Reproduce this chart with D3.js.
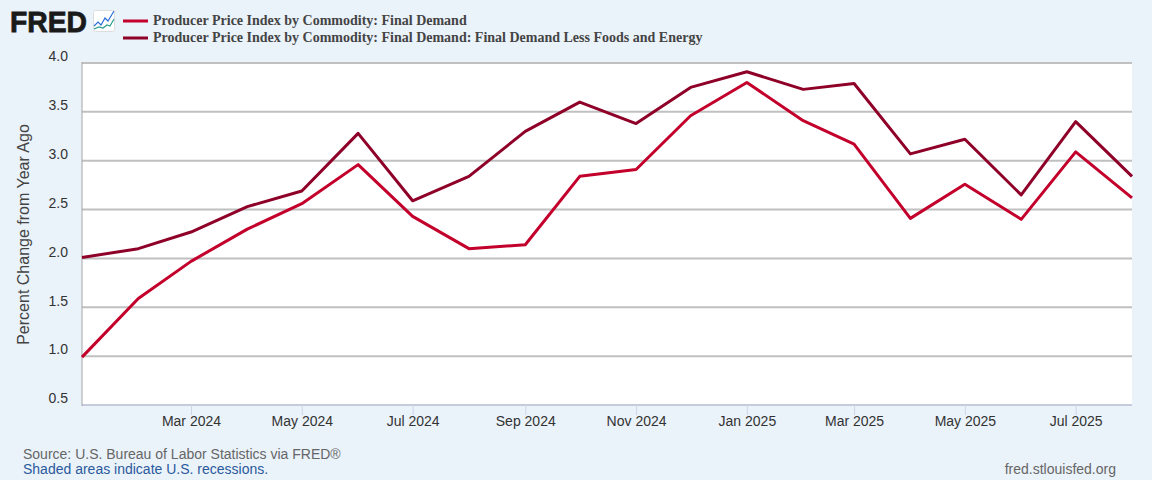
<!DOCTYPE html>
<html>
<head>
<meta charset="utf-8">
<script src="https://cdn.jsdelivr.net/npm/d3@7"></script>
<style>
  html, body { margin: 0; padding: 0; background: #eaf2fa; }
  text { font-family: "Liberation Sans", Arial, sans-serif; }
</style>
</head>
<body>
<div id="visual"></div>
<script>
const months = ["2024-01","2024-02","2024-03","2024-04","2024-05","2024-06","2024-07","2024-08","2024-09","2024-10",
  "2024-11","2024-12","2025-01","2025-02","2025-03","2025-04","2025-05","2025-06","2025-07","2025-08"];
const finalDemand = [0.99,1.59,1.97,2.30,2.56,2.96,2.43,2.10,2.14,2.84,2.91,3.46,3.80,3.41,3.17,2.41,2.76,2.40,3.09,2.62];
const lessFoodsEnergy = [2.01,2.10,2.27,2.53,2.69,3.28,2.59,2.84,3.30,3.60,3.38,3.75,3.91,3.73,3.79,3.07,3.22,2.65,3.40,2.84];
const yTicks = [0.5,1.0,1.5,2.0,2.5,3.0,3.5,4.0];
const xTicks = ["2024-03","2024-05","2024-07","2024-09","2024-11","2025-01","2025-03","2025-05","2025-07"];
const legendLabels = ["Producer Price Index by Commodity: Final Demand",
  "Producer Price Index by Commodity: Final Demand: Final Demand Less Foods and Energy"];
const colors = ["#c3002b", "#8f0029"];

const margin = { top: 63, right: 20, bottom: 75, left: 82 };
const width = 1152 - margin.left - margin.right;
const height = 480 - margin.top - margin.bottom;
const parseMonth = d3.timeParse("%Y-%m");
const fmtMonth = d3.timeFormat("%b %Y");

const root = d3.select("#visual").append("svg")
  .attr("width", 1152).attr("height", 480)
  .style("display", "block");

const svg = root.append("g")
  .attr("transform", `translate(${margin.left},${margin.top})`);

const x = d3.scaleTime()
  .domain([parseMonth(months[0]), parseMonth(months[months.length - 1])])
  .range([0, width]);
const y = d3.scaleLinear().domain([0.5, 4]).range([height, 0]);

svg.append("rect").attr("width", width).attr("height", height).attr("fill", "#fff");

// gridlines
svg.selectAll(".grid").data(yTicks).enter().append("line")
  .attr("x1", 0).attr("x2", width)
  .attr("y1", d => y(d)).attr("y2", d => y(d))
  .attr("stroke", d => d === 0.5 ? "#c5cbdc" : "#c0c0c0")
  .attr("stroke-width", 2);

svg.append("line").attr("x1", 0).attr("x2", 0).attr("y1", -1).attr("y2", height + 1)
  .attr("stroke", "#a6a6a6").attr("stroke-width", 1);

// x axis
const xAxis = svg.append("g")
  .attr("transform", `translate(0,${height})`)
  .call(d3.axisBottom(x).tickValues(xTicks.map(parseMonth)).tickFormat(fmtMonth).tickSize(10).tickPadding(1));
xAxis.select(".domain").remove();
xAxis.selectAll("line").attr("stroke", "#ccd6eb");
xAxis.selectAll("text").attr("fill", "#333").style("font-size", "14px")
  .style("font-family", "'Liberation Sans', Arial, sans-serif");

// y axis
const yAxis = svg.append("g")
  .call(d3.axisLeft(y).tickValues(yTicks).tickFormat(d3.format(".1f")).tickSize(0).tickPadding(14));
yAxis.select(".domain").remove();
yAxis.selectAll("text").attr("fill", "#333").attr("dy", "-0.16em").style("font-size", "14px")
  .style("font-family", "'Liberation Sans', Arial, sans-serif");

svg.append("text")
  .attr("transform", `translate(-53,${height / 2 + 0.5}) rotate(-90)`)
  .attr("text-anchor", "middle")
  .attr("fill", "#444").style("font-size", "16px")
  .text("Percent Change from Year Ago");

// lines
const line = d3.line().x((d, i) => x(parseMonth(months[i]))).y(d => y(d));
[finalDemand, lessFoodsEnergy].forEach((vals, i) => {
  svg.append("path").datum(vals)
    .attr("fill", "none").attr("stroke", colors[i])
    .attr("stroke-width", 3).attr("stroke-linejoin", "round")
    .attr("d", line);
});

// legend
legendLabels.forEach((t, i) => {
  const ly = 21 + i * 17;
  root.append("line").attr("x1", 123).attr("x2", 148).attr("y1", ly).attr("y2", ly)
    .attr("stroke", colors[i]).attr("stroke-width", 3);
  root.append("text").attr("x", 153).attr("y", ly + 4)
    .style("font-family", "'Liberation Serif', serif")
    .style("font-weight", "bold").style("font-size", "14px").attr("fill", "#444")
    .text(t);
});

// FRED logo
root.append("text").attr("x", 10).attr("y", 32)
  .style("font-family", "'Liberation Sans', Arial, sans-serif").style("font-weight", "bold")
  .style("font-size", "30px").attr("fill", "#1a1a1a").attr("stroke", "#1a1a1a").attr("stroke-width", 0.8)
  .attr("textLength", 77).attr("lengthAdjust", "spacingAndGlyphs").text("FRED");
root.append("rect").attr("x", 93.5).attr("y", 10.5).attr("width", 21).attr("height", 21).attr("rx", 2)
  .attr("fill", "#fff").attr("stroke", "#ddd");
const logoBlue = [[94,26],[98,22],[101,25],[105,18],[108,21],[114,11]];
const logoGreen = [[94,29],[99,27],[103,28],[107,25],[110,26],[114,19]];
[[logoBlue, "#2a6fd6"], [logoGreen, "#2a9d8f"]].forEach(([pts, c]) => {
  root.append("path").attr("d", d3.line()(pts)).attr("fill", "none")
    .attr("stroke", c).attr("stroke-width", 1.2);
});

// footer
root.append("text").attr("x", 23).attr("y", 459).attr("fill", "#666").style("font-size", "14px")
  .text("Source: U.S. Bureau of Labor Statistics via FRED®");
root.append("text").attr("x", 23).attr("y", 474).attr("fill", "#2a5a9c").style("font-size", "14px")
  .text("Shaded areas indicate U.S. recessions.");
root.append("text").attr("x", 1116).attr("y", 474).attr("text-anchor", "end")
  .attr("fill", "#666").style("font-size", "14px")
  .text("fred.stlouisfed.org");
</script>
</body>
</html>
